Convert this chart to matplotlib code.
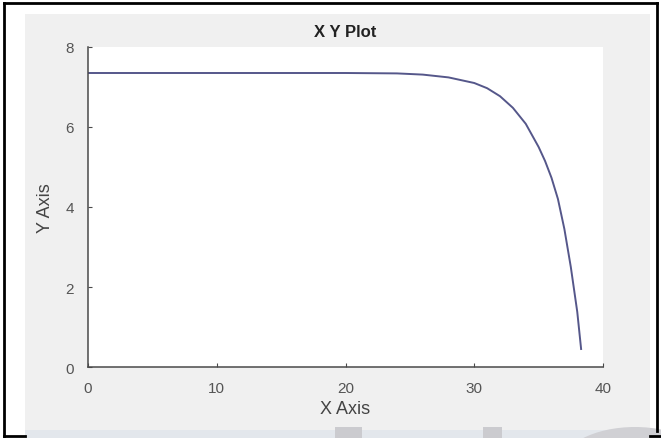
import matplotlib
matplotlib.use("Agg")
import matplotlib.pyplot as plt
from matplotlib.patches import Rectangle, Ellipse
from matplotlib.lines import Line2D

plt.rcParams['font.family'] = ['Liberation Sans', 'DejaVu Sans']

# data (I-V style curve)
x_vals = [0, 5, 10, 15, 20, 24, 26, 28, 30, 31, 32, 33, 34, 35, 35.5, 36, 36.5, 37, 37.5, 38, 38.3]
y_vals = [7.35, 7.35, 7.35, 7.35, 7.35, 7.34, 7.31, 7.24, 7.1, 6.97, 6.77, 6.48, 6.08, 5.5, 5.15, 4.73, 4.2, 3.45, 2.5, 1.38, 0.45]
x_ticks = [0, 10, 20, 30, 40]
y_ticks = [0, 2, 4, 6, 8]

W, H = 661, 439
fig = plt.figure(figsize=(W / 100, H / 100), dpi=100, facecolor="white")

def px_rect(x0, y0, x1, y1, **kw):
    # rectangle in pixel coords (origin top-left)
    r = Rectangle((x0 / W, 1 - y1 / H), (x1 - x0) / W, (y1 - y0) / H,
                  transform=fig.transFigure, **kw)
    fig.add_artist(r)
    return r

def px_line(x0, y0, x1, y1, **kw):
    l = Line2D([x0 / W, x1 / W], [1 - y0 / H, 1 - y1 / H], transform=fig.transFigure, **kw)
    fig.add_artist(l)

# grey figure panel and bottom strip
px_rect(25, 15, 650, 439, facecolor="#f0f0f0", edgecolor="none", zorder=0)
px_rect(25, 431, 650, 439, facecolor="#e3e7ec", edgecolor="none", zorder=0)
# watermark bits at the bottom
px_rect(335, 428, 362, 439, facecolor="#cbcbcf", edgecolor="none", zorder=0)
px_rect(483, 428, 502, 439, facecolor="#cbcbcf", edgecolor="none", zorder=0)
fig.add_artist(Ellipse((635 / W, 1 - 468 / H), 150 / W, 80 / H, transform=fig.transFigure,
                       facecolor="#d0d0d4", edgecolor="none", zorder=0))

# black frame
px_line(4, 4, 657, 4, color="black", lw=2)
px_line(4, 4, 4, 437, color="black", lw=2)
px_line(657, 4, 657, 432, color="black", lw=2)
px_line(4, 437, 25, 437, color="black", lw=2)
px_line(650, 437, 661, 437, color="black", lw=2)

ax = fig.add_axes([88 / W, 1 - 368 / H, (603 - 88) / W, (368 - 48) / H])
ax.set_facecolor("white")
ax.plot(x_vals, y_vals, color="#55578a", lw=1.4)

ax.set_xlim(0, 40)
ax.set_ylim(0, 8)
ax.set_xticks(x_ticks)
ax.set_yticks(y_ticks)
for s in ["top", "right"]:
    ax.spines[s].set_visible(False)
for s in ["left", "bottom"]:
    ax.spines[s].set_color("#4a4a4a")
    ax.spines[s].set_linewidth(1.1)
ax.tick_params(direction="in", length=3, width=0.8, colors="#4a4a4a",
               labelcolor="#555555", labelsize=11, pad=10)

ax.set_title("X Y Plot", fontsize=12, fontweight="bold", color="#222222", pad=8)
ax.set_xlabel("X Axis", fontsize=13, color="#444444", labelpad=4)
ax.set_ylabel("Y Axis", fontsize=13, color="#444444", labelpad=8)

fig.savefig("out.png", dpi=100, facecolor="white")
